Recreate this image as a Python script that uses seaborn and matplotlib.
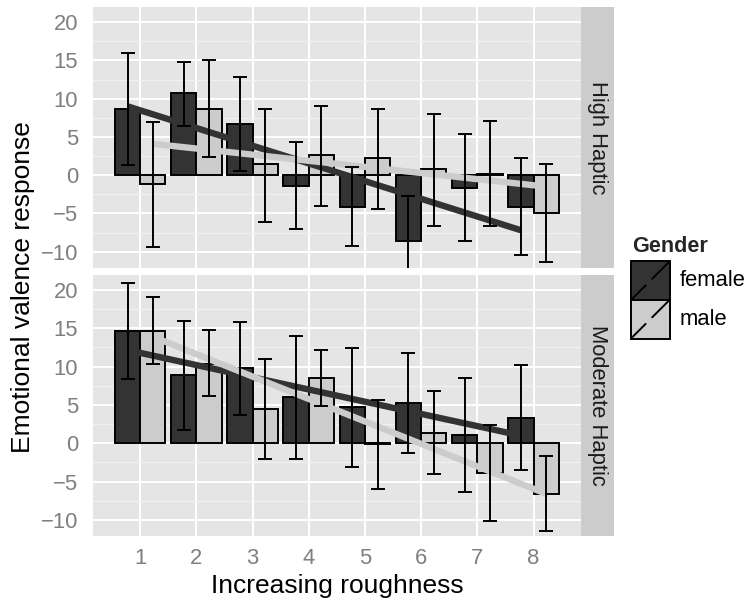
import numpy as np
import pandas as pd
import matplotlib
matplotlib.use("Agg")
import matplotlib.pyplot as plt
from matplotlib.patches import Rectangle
from matplotlib.lines import Line2D
from matplotlib.ticker import MultipleLocator, FixedLocator
import seaborn as sns

# ---------------- data ----------------
roughness = [1, 2, 3, 4, 5, 6, 7, 8]
genders = ["female", "male"]
panels = ["High Haptic", "Moderate Haptic"]

high_female = [8.7, 10.7, 6.75, -1.4, -4.1, -8.6, -1.65, -4.1]
high_female_lo = [1.35, 6.45, 0.5, -7.05, -9.2, -14.5, -8.6, -10.45]
high_female_hi = [16.0, 14.85, 12.9, 4.3, 1.1, -2.7, 5.35, 2.25]

high_male = [-1.2, 8.7, 1.4, 2.6, 2.2, 0.75, 0.2, -4.9]
high_male_lo = [-9.35, 2.35, -6.1, -4.0, -4.45, -6.65, -6.6, -11.4]
high_male_hi = [7.0, 15.0, 8.7, 9.1, 8.7, 8.05, 7.1, 1.5]

mod_female = [14.7, 8.85, 9.8, 6.05, 4.7, 5.3, 1.1, 3.35]
mod_female_lo = [8.4, 1.7, 3.75, -2.0, -3.1, -1.25, -6.3, -3.5]
mod_female_hi = [20.95, 16.0, 15.8, 14.0, 12.45, 11.8, 8.55, 10.15]

mod_male = [14.7, 10.3, 4.5, 8.55, -0.15, 1.4, -3.9, -6.6]
mod_male_lo = [10.3, 6.15, -2.0, 4.9, -6.0, -4.0, -10.2, -11.4]
mod_male_hi = [19.1, 14.8, 11.0, 12.15, 5.7, 6.8, 2.35, -1.7]

# linear trend lines: value at the first and last roughness level
high_female_fit = [9.0, -7.2]
high_male_fit = [4.1, -1.5]
mod_female_fit = [12.15, 1.0]
mod_male_fit = [13.9, -6.6]

y_ticks = [-10, -5, 0, 5, 10, 15, 20]
x_ticks = roughness

# ---------------- assemble tables ----------------
series = {
    ("High Haptic", "female"): (high_female, high_female_lo, high_female_hi),
    ("High Haptic", "male"): (high_male, high_male_lo, high_male_hi),
    ("Moderate Haptic", "female"): (mod_female, mod_female_lo, mod_female_hi),
    ("Moderate Haptic", "male"): (mod_male, mod_male_lo, mod_male_hi),
}
fits = {
    ("High Haptic", "female"): high_female_fit,
    ("High Haptic", "male"): high_male_fit,
    ("Moderate Haptic", "female"): mod_female_fit,
    ("Moderate Haptic", "male"): mod_male_fit,
}
rows = []
for (p, g), (m, lo, hi) in series.items():
    for r, mv, lv, hv in zip(roughness, m, lo, hi):
        rows.append(dict(panel=p, gender=g, roughness=r, mean=mv, lo=lv, hi=hv))
df = pd.DataFrame(rows)

# ---------------- style ----------------
sns.set_style("darkgrid")
plt.rcParams["font.family"] = ["Liberation Sans", "DejaVu Sans"]
plt.rcParams["axes.unicode_minus"] = True

fill = {"female": "#333333", "male": "#CCCCCC"}
line_col = {"female": "#333333", "male": "#CCCCCC"}
offset = {"female": -0.225, "male": 0.225}
tick_grey = "#7F7F7F"
SMALL = 15.8
TITLE = 19.0
LW = 1.4

W, H = 747, 602
fig = plt.figure(figsize=(W / 100, H / 100), dpi=100)


def box(l, t, r, b):
    return [l / W, 1 - b / H, (r - l) / W, (b - t) / H]


PL, PR = 92.7, 581.0
ax_top = fig.add_axes(box(PL, 7.3, PR, 267.7))
ax_bot = fig.add_axes(box(PL, 275.0, PR, 536.0))
st_top = fig.add_axes(box(PR, 7.3, 614.0, 267.7))
st_bot = fig.add_axes(box(PR, 275.0, 614.0, 536.0))

for ax, p in zip([ax_top, ax_bot], panels):
    sub = df[df.panel == p]
    sns.barplot(data=sub, x="roughness", y="mean", hue="gender",
                hue_order=genders, palette=fill, native_scale=True,
                width=0.9, dodge=True, errorbar=None, edgecolor="black",
                linewidth=LW, legend=False, ax=ax, zorder=2)
    for g in genders:
        f = fits[(p, g)]
        ax.plot([roughness[0] + offset[g], roughness[-1] + offset[g]], f,
                color=line_col[g], lw=4.6, solid_capstyle="butt", zorder=3)
    for g in genders:
        s = sub[sub.gender == g]
        ax.errorbar(s["roughness"] + offset[g], s["mean"],
                    yerr=[s["mean"] - s["lo"], s["hi"] - s["mean"]],
                    fmt="none", ecolor="black", elinewidth=LW,
                    capsize=4.8, capthick=LW, zorder=4)

    ax.set_xlim(0.155, 8.845)
    ax.set_ylim(-12.1, 21.95)
    ax.set_facecolor("#E5E5E5")
    ax.xaxis.set_major_locator(FixedLocator(x_ticks))
    ax.yaxis.set_major_locator(FixedLocator(y_ticks))
    ax.yaxis.set_minor_locator(MultipleLocator(2.5))
    ax.xaxis.set_minor_locator(FixedLocator([]))
    ax.set_axisbelow(True)
    ax.grid(False)
    ax.grid(which="major", axis="both", color="white", lw=1.4)
    ax.grid(which="minor", axis="y", color="#F2F2F2", lw=0.7)
    for sp in ax.spines.values():
        sp.set_visible(False)
    ax.set_xlabel("")
    ax.set_ylabel("")
    ax.set_xticklabels([str(v) for v in x_ticks])
    ax.set_yticklabels([str(v).replace("-", "\u2212") for v in y_ticks])
    ax.tick_params(axis="both", which="major", length=6, width=1.2,
                   color=tick_grey, labelcolor=tick_grey, labelsize=SMALL)
    ax.tick_params(axis="y", which="major", pad=4.5)
    ax.tick_params(axis="x", which="major", pad=3)
    ax.tick_params(which="minor", length=0)

ax_top.tick_params(axis="x", length=0, labelbottom=False)

for st, p in zip([st_top, st_bot], panels):
    st.set_facecolor("#CCCCCC")
    st.set_xticks([])
    st.set_yticks([])
    st.grid(False)
    for sp in st.spines.values():
        sp.set_visible(False)
    st.text(0.5, 0.5, p, rotation=270, ha="center", va="center",
            fontsize=SMALL, color="#1A1A1A", transform=st.transAxes)

# axis titles
fig.text(23 / W, 1 - 287 / H, "Emotional valence response", rotation=90,
         ha="center", va="center", fontsize=TITLE, color="black")
fig.text((PL + PR) / 2 / W, 1 - 593.3 / H, "Increasing roughness",
         ha="center", va="baseline", fontsize=TITLE, color="black")

# legend
fig.text(631.7 / W, 1 - 251.7 / H, "Gender", fontweight="bold",
         fontsize=15.6, ha="left", va="baseline")
key_l, key_r = 631.0, 669.5
key_rows = {"female": (261.5, 300.0), "male": (300.0, 338.5)}
for g in genders:
    t, b = key_rows[g]
    fig.add_artist(Rectangle((key_l / W, 1 - b / H), (key_r - key_l) / W,
                             (b - t) / H, transform=fig.transFigure,
                             facecolor=fill[g], edgecolor="black", lw=LW))
    for t0, t1 in [(0.03, 0.38), (0.55, 0.97)]:
        xs = [key_l + (key_r - key_l) * t0, key_l + (key_r - key_l) * t1]
        ys = [b - (b - t) * t0, b - (b - t) * t1]
        fig.add_artist(Line2D([x / W for x in xs], [1 - y / H for y in ys],
                              transform=fig.transFigure, color="black", lw=LW))
    fig.text(679.3 / W, 1 - (t + b) / 2 / H, g, fontsize=SMALL,
             ha="left", va="center", color="black")

fig.savefig("out.png", dpi=100)
